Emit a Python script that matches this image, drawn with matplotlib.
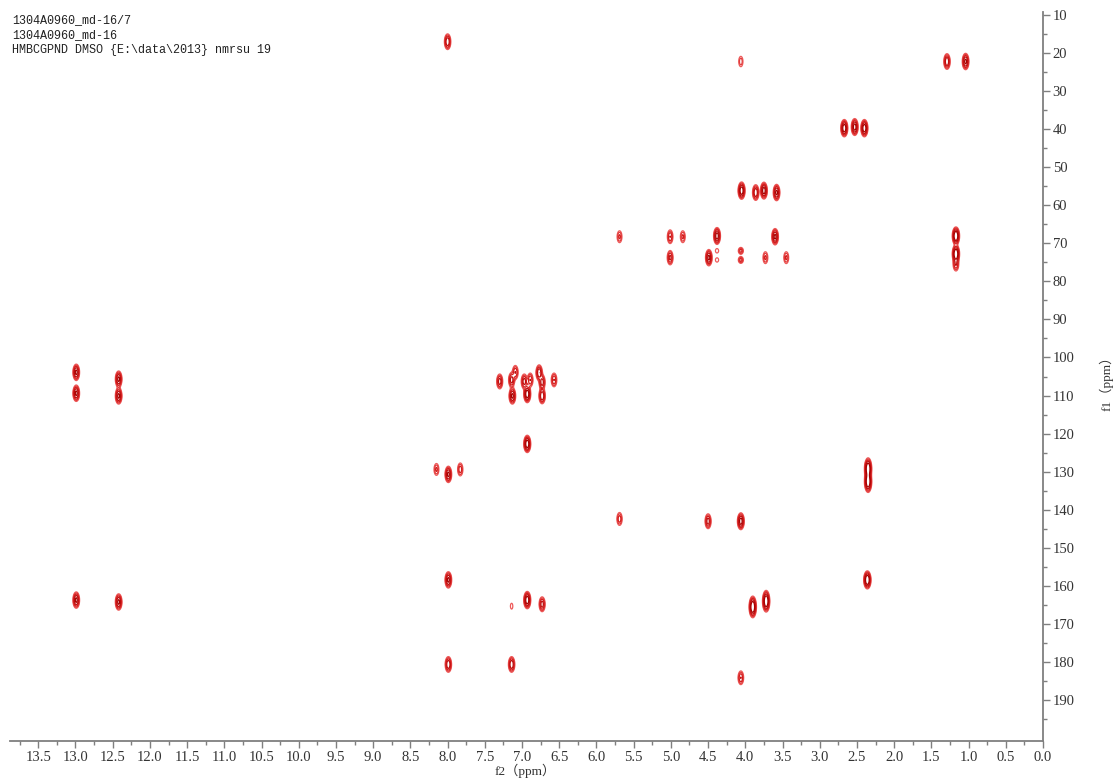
import numpy as np
import matplotlib
matplotlib.use("Agg")
import matplotlib.pyplot as plt
from matplotlib.colors import LinearSegmentedColormap

# HMBC cross peaks: f2 (1H, ppm), f1 (13C, ppm), relative intensity, f1 width factor
f2_ppm = [8.00, 4.06, 1.29, 1.04,
          2.67, 2.53, 2.40,
          4.05, 3.86, 3.75, 3.58,
          5.69, 5.01, 4.84, 4.38, 3.60, 1.17,
          5.01, 4.49, 4.38, 4.38, 4.06, 4.06, 3.73, 3.45, 1.17, 1.17,
          12.99, 12.99, 12.42, 12.42,
          7.30, 7.14, 7.09, 6.97, 6.89, 6.77, 6.73, 6.57,
          7.13, 6.93, 6.73,
          6.93,
          8.15, 7.99, 7.83, 2.35, 2.35,
          5.69, 4.50, 4.06,
          7.99, 2.36,
          12.99, 12.42, 7.14, 6.93, 6.73, 3.90, 3.72,
          7.99, 7.14, 4.06]
f1_ppm = [17.1, 22.3, 22.3, 22.3,
          39.8, 39.5, 39.8,
          56.2, 56.7, 56.2, 56.7,
          68.3, 68.3, 68.3, 68.1, 68.3, 68.1,
          73.8, 73.8, 72.0, 74.4, 72.0, 74.4, 73.8, 73.8, 72.8, 75.5,
          103.9, 109.4, 105.7, 110.1,
          106.3, 105.9, 103.9, 106.3, 105.9, 104.0, 106.5, 105.9,
          110.1, 109.6, 110.1,
          122.7,
          129.4, 130.7, 129.4, 129.2, 132.6,
          142.4, 143.0, 143.0,
          158.4, 158.4,
          163.7, 164.2, 165.3, 163.7, 164.8, 165.5, 164.0,
          180.6, 180.6, 184.1]
intensity = [0.5, 0.15, 0.5, 0.6,
             0.8, 0.7, 0.8,
             0.8, 0.5, 0.7, 0.6,
             0.2, 0.3, 0.2, 0.7, 0.6, 1.0,
             0.35, 0.6, 0.1, 0.1, 0.22, 0.22, 0.2, 0.2, 1.0, 0.3,
             0.6, 0.6, 0.6, 0.6,
             0.4, 0.4, 0.3, 0.4, 0.3, 0.5, 0.4, 0.3,
             0.6, 0.8, 0.5,
             0.8,
             0.2, 0.6, 0.25, 1.0, 1.0,
             0.25, 0.4, 0.7,
             0.6, 1.0,
             0.6, 0.6, 0.08, 0.8, 0.4, 1.0, 1.0,
             0.5, 0.5, 0.3]
f1_width = [1.0, 1.0, 1.0, 1.0,
            1.0, 1.0, 1.0,
            1.0, 1.0, 1.0, 1.0,
            1.0, 1.0, 1.0, 1.0, 1.0, 1.0,
            1.0, 1.0, 0.55, 0.55, 0.55, 0.55, 1.0, 1.0, 1.0, 1.0,
            1.0, 1.0, 1.0, 1.0,
            1.0, 1.0, 1.0, 1.0, 1.0, 1.0, 1.0, 1.0,
            1.0, 1.0, 1.0,
            1.0,
            1.0, 1.0, 1.0, 1.2, 1.2,
            1.0, 1.0, 1.0,
            1.0, 1.0,
            1.0, 1.0, 1.0, 1.0, 1.0, 1.2, 1.2,
            1.0, 1.0, 1.0]

header = ["1304A0960_md-16/7",
          "1304A0960_md-16",
          "HMBCGPND DMSO {E:\\data\\2013} nmrsu 19"]

x_ticks = np.arange(0.0, 13.51, 0.5)
y_ticks = np.arange(10, 191, 10)

# build the 2D spectrum from the peak list
SIGMA_X = 0.021
SIGMA_Y = 1.0
gx = np.arange(0.0, 13.95, 0.004)
gy = np.arange(8.0, 202.0, 0.15)
Z = np.zeros((gy.size, gx.size))
for x0, y0, a, w in zip(f2_ppm, f1_ppm, intensity, f1_width):
    px = np.exp(-0.5 * ((gx - x0) / SIGMA_X) ** 2)
    py = np.exp(-0.5 * ((gy - y0) / (SIGMA_Y * w)) ** 2)
    Z += a * np.outer(py, px)

levels = 0.06 * 1.7 ** np.arange(5)
cmap = LinearSegmentedColormap.from_list("nmr", ["#ee5a5a", "#d41c1c", "#a80000"])
line_colors = [cmap(i / (len(levels) - 1)) for i in range(len(levels))]

fig = plt.figure(figsize=(11.16, 7.81), dpi=100)
ax = fig.add_axes([10 / 1116, 1 - 741 / 781, (1043 - 10) / 1116, (741 - 12) / 781])

ax.contour(gx, gy, Z, levels=levels, colors=line_colors, linewidths=0.9)

ax.set_xlim(13.88, 0.0)
ax.set_ylim(200.7, 9.3)

for side in ("left", "top"):
    ax.spines[side].set_visible(False)
for side in ("bottom", "right"):
    ax.spines[side].set_color("#7f7f7f")
    ax.spines[side].set_linewidth(1.3)

tick_font = "Liberation Serif"
ax.set_xticks(x_ticks)
ax.set_xticklabels([f"{v:.1f}" for v in x_ticks], family=tick_font, fontsize=10.5)
ax.set_xticks(np.arange(0.25, 13.8, 0.5), minor=True)
ax.yaxis.tick_right()
ax.set_yticks(y_ticks)
ax.set_yticklabels([f"{v:d}" for v in y_ticks], family=tick_font, fontsize=10.5)
ax.set_yticks(np.arange(15, 200, 10), minor=True)
ax.tick_params(axis="both", which="major", length=5, width=1.0, color="#7f7f7f",
               direction="out", labelcolor="#333333", pad=2)
ax.tick_params(axis="both", which="minor", length=3, width=1.0, color="#7f7f7f",
               direction="out")

label_font = ["Liberation Serif", "Noto Sans CJK SC"]
fig.text(525 / 1116, 1 - 771 / 781, "f2（ppm）", family=label_font, fontsize=9.5,
         ha="center", va="center", color="#333333")
fig.text(1106 / 1116, 1 - 380 / 781, "f1（ppm）", family=label_font, fontsize=9.5,
         ha="center", va="center", rotation=90, color="#333333")

for i, line in enumerate(header):
    fig.text(12 / 1116, 1 - (20 + 15 * i) / 781, line, family="Liberation Mono",
             fontsize=8.5, ha="left", va="center", color="#222222")

fig.savefig("out.png", dpi=100)
